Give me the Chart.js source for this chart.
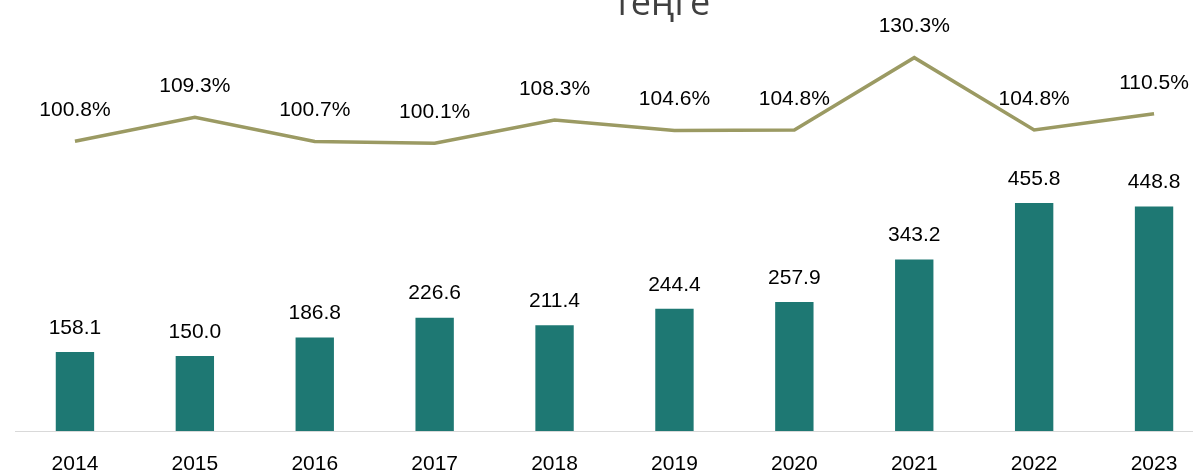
<!DOCTYPE html>
<html>
<head>
<meta charset="utf-8">
<script src="https://cdn.jsdelivr.net/npm/chart.js@4/dist/chart.umd.min.js"></script>
<style>
  html, body { margin: 0; padding: 0; background: #ffffff; overflow: hidden; width: 1193px; height: 472px; }
  #wrap { position: absolute; left: 0; top: 0; width: 1229px; height: 472px; }
</style>
</head>
<body>
<div id="wrap"><canvas id="c" width="1229" height="472"></canvas></div>
<script>
const years = ["2014", "2015", "2016", "2017", "2018", "2019", "2020", "2021", "2022", "2023"];
const amounts = [158.1, 150.0, 186.8, 226.6, 211.4, 244.4, 257.9, 343.2, 455.8, 448.8];
const indexPct = [100.8, 109.3, 100.7, 100.1, 108.3, 104.6, 104.8, 130.3, 104.8, 110.5];
const titleText = "теңге";

const FONT = "'Liberation Sans', Arial, sans-serif";

const labelPlugin = {
  id: 'valueLabels',
  afterDatasetsDraw(chart) {
    const ctx = chart.ctx;
    ctx.save();
    ctx.font = "21px " + FONT;
    ctx.fillStyle = "#000000";
    ctx.textAlign = "center";
    ctx.textBaseline = "middle";
    chart.data.datasets.forEach((ds, i) => {
      const meta = chart.getDatasetMeta(i);
      meta.data.forEach((el, j) => {
        const v = ds.data[j];
        if (ds.type === 'bar') {
          ctx.fillText(v.toFixed(1), el.x, el.y - 24);
        } else {
          ctx.fillText(v.toFixed(1) + "%", el.x, el.y - 31);
        }
      });
    });
    ctx.restore();
  }
};

const titlePlugin = {
  id: 'cutTitle',
  afterDraw(chart) {
    const ctx = chart.ctx;
    ctx.save();
    ctx.font = "36px 'Open Sans', sans-serif";
    ctx.fillStyle = "#404040";
    ctx.textAlign = "center";
    ctx.textBaseline = "alphabetic";
    ctx.fillText(titleText, 662, 15);
    ctx.restore();
  }
};

new Chart(document.getElementById('c'), {
  data: {
    labels: years,
    datasets: [
      {
        type: 'line',
        data: indexPct,
        yAxisID: 'yLine',
        borderColor: '#9b9a63',
        borderWidth: 3.5,
        pointRadius: 0,
        tension: 0,
        fill: false,
        order: 0
      },
      {
        type: 'bar',
        data: amounts,
        yAxisID: 'yBar',
        backgroundColor: '#1e7873',
        borderWidth: 0,
        barPercentage: 0.32,
        categoryPercentage: 1.0,
        order: 1
      }
    ]
  },
  options: {
    responsive: false,
    animation: false,
    layout: { padding: { top: 31, left: 15, right: 15, bottom: 0 } },
    plugins: {
      legend: { display: false },
      title: { display: false },
      tooltip: { enabled: false }
    },
    scales: {
      x: {
        offset: true,
        grid: { display: false },
        border: { display: true, color: '#d9d9d9', width: 1 },
        ticks: {
          color: '#000000',
          font: { family: FONT, size: 21 },
          padding: 13,
          maxRotation: 0,
          autoSkip: false
        },
        afterFit(scale) { scale.height = 41; }
      },
      yBar: {
        display: false,
        min: 0,
        max: 800
      },
      yLine: {
        display: false,
        min: -1.4,
        max: 139.7
      }
    }
  },
  plugins: [labelPlugin, titlePlugin]
});
</script>
</body>
</html>
